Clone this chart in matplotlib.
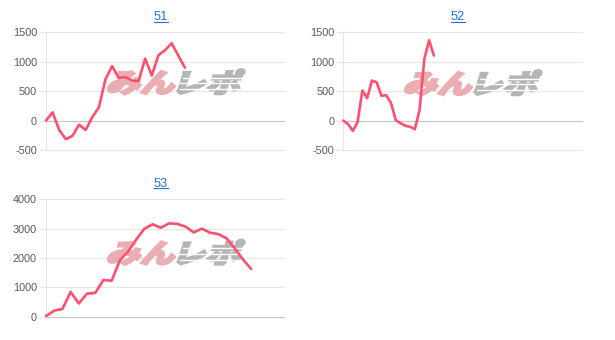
import matplotlib
matplotlib.use("Agg")
import matplotlib.pyplot as plt
from matplotlib.lines import Line2D
from matplotlib.textpath import TextPath
from matplotlib.font_manager import FontProperties
from matplotlib.patches import PathPatch
from matplotlib.transforms import Affine2D

# ---- data ----
titles = ["51", "52", "53"]
x51 = [0, 1, 2, 3, 4, 5, 6, 7, 8, 9, 10, 11, 12, 13, 14, 15, 16, 17, 18, 19, 21]
y51 = [0, 140, -160, -315, -260, -70, -160, 58, 225, 705, 925, 725, 740, 680, 670,
       1055, 765, 1110, 1195, 1315, 900]
x52 = list(range(20))
y52 = [0, -60, -175, -25, 510, 380, 680, 650, 422, 430, 300, 8, -45, -88, -105, -148,
       182, 1050, 1365, 1105]
x53 = list(range(26))
y53 = [20, 205, 265, 845, 450, 785, 810, 1250, 1225, 1920, 2220, 2630, 3000, 3150,
       3030, 3180, 3160, 3070, 2870, 3000, 2860, 2815, 2670, 2330, 1950, 1630]
xmax = [36, 50, 29]
yticks12 = [-500, 0, 500, 1000, 1500]
yticks3 = [0, 1000, 2000, 3000, 4000]

W, H = 615, 340
fig = plt.figure(figsize=(W / 100, H / 100), dpi=100)
fig.patch.set_facecolor("white")

LINE = "#ff4f6f"
GRID = "#e6e6e6"
ZERO = "#c4c4c4"
TICKC = "#595959"
TITLEC = "#1e6fd9"


def px_axes(left, top, right, bottom):
    return [left / W, 1 - bottom / H, (right - left) / W, (bottom - top) / H]


specs = [
    (x51, y51, xmax[0], yticks12, px_axes(46, 32.3, 284, 150), (161, 20), (176, 82)),
    (x52, y52, xmax[1], yticks12, px_axes(343.3, 32.3, 581.7, 150), (458, 20), (473, 83)),
    (x53, y53, xmax[2], yticks3, px_axes(46, 199.3, 284, 316.7), (161, 186.7), (176, 252.5)),
]

fp_wm = FontProperties(family="Noto Sans CJK JP", weight="heavy")


def watermark(ax, cx, cy):
    tp1 = TextPath((0, 0), "みん", size=1, prop=fp_wm)
    tp2 = TextPath((0, 0), "レポ", size=1, prop=fp_wm)
    e1 = tp1.get_extents()
    e2 = tp2.get_extents()
    gap = 0.12
    total = e1.width + gap + e2.width
    sx = 140 / (total + 0.25)
    sy = 25 / max(e1.height, e2.height)
    x0 = cx - 70
    y0 = H - (cy + 12.5)
    for tp, off, col in [(tp1, -e1.x0, "#eaaeb2"), (tp2, e1.width + gap - e2.x0, "#b5b5b5")]:
        tr = (Affine2D().translate(off, -min(e1.y0, e2.y0)).skew_deg(14, 0)
              .scale(sx, sy).translate(x0, y0))
        p = PathPatch(tp, facecolor=col, edgecolor=col, lw=1.6, joinstyle="miter",
                      transform=tr, zorder=1.5)
        p.set_clip_on(False)
        ax.add_artist(p)
    # speed lines across gray part
    gx0 = x0 + (e1.width + gap) * sx
    for fy, l0, l1 in [(0.22, 0.05, 1.0), (0.45, 0.0, 0.9), (0.68, 0.1, 1.0)]:
        yy = y0 + fy * 25
        xa = gx0 + l0 * (140 - (gx0 - x0))
        xb = gx0 + l1 * (140 - (gx0 - x0)) + 4
        ln = Line2D([xa, xb], [yy, yy], color="white", lw=1.0, transform=Affine2D(), zorder=1.6)
        ax.add_artist(ln)


for (xs, ys, xm, yt, pos, tpos, wpos), title in zip(specs, titles):
    ax = fig.add_axes(pos)
    ax.set_xlim(0, xm)
    ax.set_ylim(yt[0], yt[-1])
    ax.set_yticks(yt)
    ax.set_yticklabels([str(v) for v in yt])
    ax.set_xticks([])
    for s in ["top", "right", "bottom"]:
        ax.spines[s].set_visible(False)
    ax.spines["left"].set_color(GRID)
    ax.spines["left"].set_linewidth(0.8)
    ax.tick_params(axis="y", length=4.8, width=0.8, color=GRID, pad=1.7,
                   labelsize=7.8, labelcolor=TICKC)
    for lab in ax.get_yticklabels():
        lab.set_fontfamily("Liberation Sans")
    for v in yt:
        c = ZERO if v == 0 else GRID
        ax.axhline(v, color=c, lw=0.8, zorder=1, clip_on=False)
    for tk, v in zip(ax.yaxis.get_major_ticks(), yt):
        if v == 0:
            tk.tick1line.set_color(ZERO)
    watermark(ax, *wpos)
    ax.plot(xs, ys, color=LINE, lw=1.9, solid_joinstyle="round", solid_capstyle="round",
            zorder=3, clip_on=False)
    # title with underline
    tx, ty = tpos
    fig.text(tx / W, 1 - ty / H, title, ha="center", va="baseline", fontsize=9.2,
             color=TITLEC, family="Liberation Sans")
    fig.add_artist(Line2D([(tx - 7) / W, (tx + 7) / W], [1 - (ty + 1.6) / H] * 2,
                          transform=fig.transFigure, color=TITLEC, lw=0.8))

fig.savefig("out.png", dpi=100, facecolor="white")
